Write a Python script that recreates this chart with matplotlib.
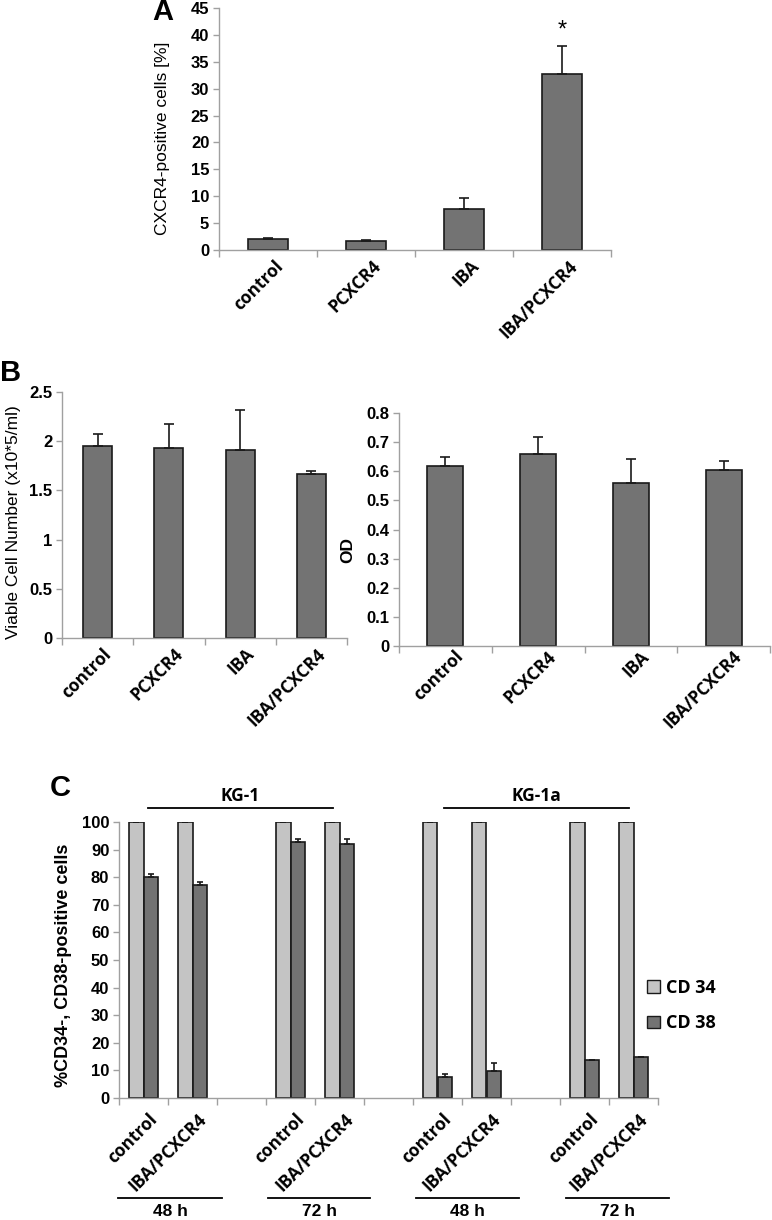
import matplotlib
matplotlib.use("Agg")
import matplotlib.pyplot as plt
import matplotlib.transforms as mtrans
import numpy as np
from matplotlib.patches import Patch

# ---------------- data ----------------
cats_ab = ["control", "PCXCR4", "IBA", "IBA/PCXCR4"]
a_vals = [2.0, 1.7, 7.7, 32.7]
a_err = [0.3, 0.2, 2.0, 5.3]

b1_vals = [1.95, 1.93, 1.91, 1.67]
b1_err = [0.12, 0.24, 0.41, 0.03]

b2_vals = [0.617, 0.658, 0.561, 0.603]
b2_err = [0.033, 0.060, 0.080, 0.033]

c_cats = ["control", "IBA/PCXCR4", "", "control", "IBA/PCXCR4", "",
          "control", "IBA/PCXCR4", "", "control", "IBA/PCXCR4"]
cd34_vals = [100, 100, np.nan, 100, 100, np.nan, 100, 100, np.nan, 100, 100]
cd34_err = [0, 0, 0, 0.3, 0, 0, 0, 0, 0, 0, 0]
cd38_vals = [80.0, 77.0, np.nan, 92.7, 92.1, np.nan, 7.5, 9.8, np.nan, 13.8, 14.7]
cd38_err = [1.0, 1.1, 0, 1.1, 1.6, 0, 1.3, 3.0, 0, 0, 0]
series_names = ["CD 34", "CD 38"]
cell_lines = ["KG-1", "KG-1a"]
times = ["48 h", "72 h", "48 h", "72 h"]

# ---------------- style ----------------
DARK = "#737373"
LIGHT = "#c4c4c4"
EDGE = "#1a1a1a"
SPINE = "#a0a0a0"
TICKFONT = "Liberation Sans"
XFONT = "Open Sans"

W, H = 772, 1220
fig = plt.figure(figsize=(W / 100, H / 100), dpi=100)


def px_axes(left, top, right, bottom):
    return fig.add_axes([left / W, 1 - bottom / H, (right - left) / W, (bottom - top) / H])


def style_axes(ax, n, ylim, yticks, fmt, xlabels, xfs=12.5, yfs=12, xpad=6, xdx=5):
    ax.set_xlim(-0.5, n - 0.5)
    ax.set_ylim(*ylim)
    for s in ["top", "right"]:
        ax.spines[s].set_visible(False)
    for s in ["left", "bottom"]:
        ax.spines[s].set_color(SPINE)
        ax.spines[s].set_linewidth(1.0)
    ax.set_yticks(yticks)
    ax.set_yticklabels([fmt(v) for v in yticks], fontfamily=TICKFONT,
                       fontweight="bold", fontsize=yfs)
    ax.tick_params(axis="y", length=4, color=SPINE, width=1, pad=3)
    ax.set_xticks(np.arange(-0.5, n, 1.0), minor=True)
    ax.tick_params(axis="x", which="minor", length=5, color=SPINE, width=1)
    ax.set_xticks(np.arange(n))
    ax.tick_params(axis="x", which="major", length=0, pad=xpad)
    ax.set_xticklabels(xlabels, rotation=45, ha="right", va="top",
                       rotation_mode="anchor", fontfamily=XFONT,
                       fontweight="bold", fontsize=xfs)
    off = mtrans.ScaledTranslation(xdx / 100, 0, fig.dpi_scale_trans)
    for lab in ax.get_xticklabels():
        lab.set_transform(lab.get_transform() + off)


def draw_bars(ax, x, vals, errs, color, width, capsize):
    ax.bar(x, vals, width=width, color=color, edgecolor=EDGE, linewidth=1.2, zorder=2)
    lo = np.zeros(len(vals))
    ax.errorbar(x, vals, yerr=[lo, errs], fmt="none", ecolor=EDGE,
                elinewidth=1.2, capsize=capsize, capthick=1.2, zorder=3)


def ylabel(xc, yc, text, bold=False, size=12.5):
    fig.text(xc / W, 1 - yc / H, text, rotation=90, ha="center", va="center",
             fontfamily=TICKFONT, fontweight="bold" if bold else "normal", fontsize=size)


def letter(x, yc, s):
    fig.text(x / W, 1 - yc / H, s, fontfamily=TICKFONT, fontweight="bold",
             fontsize=21, ha="left", va="center")


# ---------------- panel A ----------------
axA = px_axes(219, 8, 611, 250)
xA = np.arange(len(cats_ab))
draw_bars(axA, xA, a_vals, a_err, DARK, 0.41, 3.5)
style_axes(axA, 4, (0, 45), np.arange(0, 46, 5), lambda v: f"{v:g}", cats_ab,
           xpad=5, xdx=6)
ylabel(163, 138, "CXCR4-positive cells [%]")
axA.text(xA[3], a_vals[3] + a_err[3] + 0.8, "*", ha="center", va="bottom",
         fontsize=17, fontfamily=TICKFONT)
letter(152, 12, "A")

# ---------------- panel B left ----------------
axB1 = px_axes(62, 392, 347, 638)
xB = np.arange(len(cats_ab))
draw_bars(axB1, xB, b1_vals, b1_err, DARK, 0.41, 3.5)
style_axes(axB1, 4, (0, 2.5), [0, 0.5, 1, 1.5, 2, 2.5], lambda v: f"{v:g}", cats_ab,
           xpad=5, xdx=5)
ylabel(14, 522, "Viable Cell Number (x10*5/ml)")
letter(0, 373, "B")

# ---------------- panel B right ----------------
axB2 = px_axes(399, 413, 770, 646)
draw_bars(axB2, xB, b2_vals, b2_err, DARK, 0.39, 3.5)
style_axes(axB2, 4, (0, 0.8), np.round(np.arange(0, 0.81, 0.1), 1),
           lambda v: f"{v:g}", cats_ab, xpad=1, xdx=9)
ylabel(348, 550, "OD", bold=True)

# ---------------- panel C ----------------
axC = px_axes(119, 822, 658, 1098)
xC = np.arange(len(c_cats))
bw = 0.3
draw_bars(axC, xC - bw / 2, cd34_vals, cd34_err, LIGHT, bw, 2.5)
draw_bars(axC, xC + bw / 2, cd38_vals, cd38_err, DARK, bw, 2.5)
style_axes(axC, len(c_cats), (0, 100), np.arange(0, 101, 10), lambda v: f"{v:g}",
           c_cats, xpad=9, xdx=5)
ylabel(63, 965, "%CD34-, CD38-positive cells", bold=True, size=13)
letter(50, 788, "C")

fig.legend(handles=[Patch(facecolor=LIGHT, edgecolor=EDGE, label=series_names[0]),
                    Patch(facecolor=DARK, edgecolor=EDGE, label=series_names[1])],
           loc="upper left", bbox_to_anchor=(638 / W, 1 - 970 / H), frameon=False,
           handlelength=0.7, handleheight=0.7, labelspacing=0.95,
           handletextpad=0.35, borderpad=0,
           prop={"family": XFONT, "size": 13, "weight": "bold"})

# group lines above (cell lines) and below (times)
for name, (x0, x1) in zip(cell_lines, [(148, 333), (444, 629)]):
    fig.add_artist(plt.Line2D([x0 / W, x1 / W], [1 - 808 / H] * 2, color="black", lw=1.3))
    fig.text((x0 + x1) / 2 / W, 1 - 796 / H, name, ha="center", va="center",
             fontfamily=XFONT, fontweight="bold", fontsize=12.5)
for name, (x0, x1) in zip(times, [(118, 222), (268, 370), (416, 519), (566, 669)]):
    fig.add_artist(plt.Line2D([x0 / W, x1 / W], [1 - 1198 / H] * 2, color="black", lw=1.3))
    fig.text((x0 + x1) / 2 / W, 1 - 1212 / H, name, ha="center", va="center",
             fontfamily=TICKFONT, fontweight="bold", fontsize=12.5)

fig.savefig("out.png", dpi=100, facecolor="white")
